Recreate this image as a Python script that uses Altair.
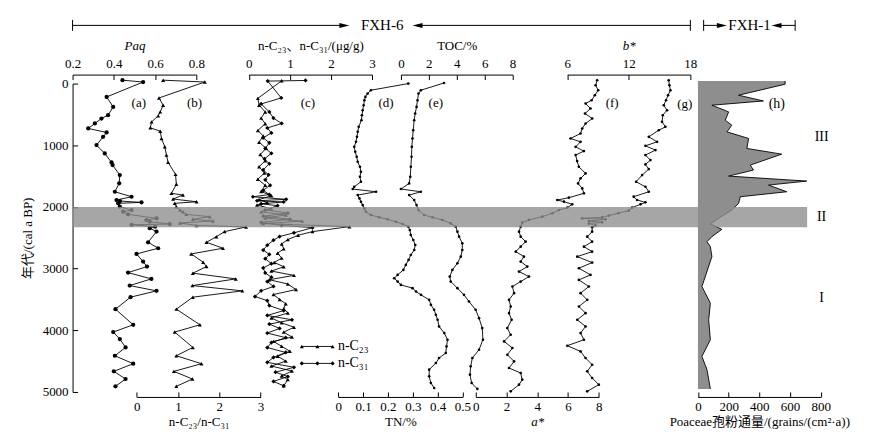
import altair as alt
import pandas as pd

# ---------------- data (age in cal a BP) ----------------
PAQ_AGE = [-55, -25, 217, 378, 513, 567, 647, 728, 793, 864, 998, 1133, 1278, 1322, 1484, 1618, 1754, 1835, 1888, 1905,
           1926, 1942, 1997, 2050, 2078, 2120, 2185, 2212, 2240, 2277, 2290, 2320, 2345, 2400, 2573, 2670, 2762, 2886, 2967, 3065,
           3167, 3275, 3361, 3463, 3657, 3911, 4029, 4142, 4278, 4413, 4542, 4666, 4790, 4909]
PAQ = [0.442, 0.542, 0.365, 0.397, 0.372, 0.340, 0.308, 0.276, 0.365, 0.348, 0.316, 0.356, 0.389, 0.394, 0.429, 0.426, 0.405, 0.486, 0.413, 0.430,
       0.534, 0.421, 0.429, 0.486, 0.445, 0.469, 0.607, 0.558, 0.574, 0.671, 0.486, 0.600, 0.574, 0.607, 0.566, 0.615, 0.510, 0.542, 0.561, 0.469,
       0.582, 0.477, 0.607, 0.481, 0.408, 0.494, 0.397, 0.429, 0.457, 0.405, 0.494, 0.400, 0.457, 0.408]

RAT_AGE = [-55, -25, 233, 351, 459, 524, 621, 718, 772, 890, 1026, 1160, 1278, 1472, 1634, 1780, 1807, 1872, 1916, 1942,
           1997, 2050, 2078, 2120, 2159, 2201, 2228, 2260, 2300, 2325, 2400, 2482, 2573, 2670, 2762, 2896, 2967, 3074, 3167, 3275,
           3361, 3463, 3657, 3911, 4029, 4278, 4413, 4542, 4666, 4790, 4909]
RAT = [0.64, 1.65, 0.54, 0.64, 0.57, 0.52, 0.36, 0.33, 0.57, 0.60, 0.68, 0.72, 0.76, 0.94, 0.96, 0.84, 1.12, 0.88, 1.45, 0.92,
       0.96, 1.05, 1.12, 1.20, 1.77, 1.36, 1.85, 1.05, 1.45, 2.65, 2.13, 1.93, 1.69, 2.09, 1.32, 1.61, 1.69, 1.36, 2.40, 1.35,
       2.56, 1.36, 0.96, 1.53, 0.92, 1.36, 0.96, 1.57, 0.90, 1.35, 0.96]

C23_AGE = [-45, 240, 350, 460, 560, 650, 760, 850, 950, 1050, 1150, 1250, 1350, 1450, 1550, 1650, 1750, 1820, 1880, 1930,
           1970, 2030, 2080, 2130, 2180, 2230, 2270, 2320, 2400, 2460, 2530, 2600, 2680, 2750, 2830, 2900, 2970, 3040, 3110, 3180,
           3250, 3340, 3420, 3500, 3570, 3650, 3720, 3800, 3880, 3950, 4030, 4110, 4180, 4260, 4340, 4420, 4500, 4580, 4660, 4740,
           4800, 4900]
C23 = [0.80, 0.22, 0.25, 0.40, 0.30, 0.40, 0.22, 0.35, 0.25, 0.42, 0.28, 0.40, 0.25, 0.38, 0.22, 0.40, 0.30, 0.55, 0.25, 0.45,
       0.20, 0.55, 0.30, 0.90, 0.40, 1.30, 0.35, 2.45, 1.55, 1.20, 0.95, 0.80, 0.85, 0.70, 0.80, 0.62, 0.85, 0.55, 1.10, 0.50,
       0.95, 1.15, 0.60, 0.75, 0.90, 0.85, 0.95, 0.55, 0.80, 1.10, 0.85, 1.05, 0.60, 0.80, 1.00, 0.70, 0.90, 0.55, 1.05, 0.80,
       0.95, 0.85]

C31_AGE = [-50, -40, 233, 330, 460, 560, 647, 720, 800, 880, 960, 1050, 1130, 1220, 1300, 1400, 1480, 1560, 1650, 1730,
           1800, 1835, 1877, 1900, 1920, 1950, 1980, 2050, 2100, 2150, 2200, 2250, 2300, 2336, 2420, 2480, 2540, 2620, 2700, 2770,
           2840, 2920, 2990, 3070, 3140, 3210, 3290, 3360, 3453, 3520, 3600, 3680, 3760, 3830, 3900, 3970, 4045, 4120, 4200, 4280,
           4360, 4440, 4520, 4600, 4680, 4750, 4830, 4900]
C31 = [1.38, 0.46, 0.79, 0.30, 0.50, 0.60, 0.80, 0.45, 0.55, 0.35, 0.50, 0.40, 0.55, 0.38, 0.50, 0.35, 0.48, 0.40, 0.52, 0.35,
       0.50, 0.10, 0.91, 0.20, 0.85, 0.30, 0.70, 0.40, 0.95, 0.35, 1.00, 0.30, 0.80, 1.55, 1.10, 0.75, 0.60, 0.45, 0.35, 0.50,
       0.40, 0.55, 0.35, 0.40, 0.55, 0.45, 0.60, 0.30, 0.15, 0.45, 0.50, 0.85, 0.45, 1.05, 0.50, 0.75, 0.45, 0.90, 0.55, 0.45,
       0.90, 0.60, 0.45, 1.10, 0.65, 0.95, 0.60, 0.85]

TN_AGE = [0, 108, 162, 216, 270, 351, 432, 513, 594, 702, 783, 864, 945, 1026, 1106, 1187, 1268, 1349, 1430, 1511,
          1592, 1673, 1710, 1754, 1808, 1862, 1916, 1970, 2024, 2078, 2131, 2169, 2201, 2240, 2277, 2320, 2374, 2455, 2536, 2617,
          2698, 2779, 2859, 2940, 3021, 3102, 3156, 3210, 3264, 3317, 3372, 3425, 3506, 3587, 3668, 3749, 3830, 3938, 4045, 4153,
          4262, 4369, 4450, 4531, 4639, 4747, 4855, 4935]
TN = [0.282, 0.131, 0.118, 0.109, 0.105, 0.102, 0.098, 0.095, 0.093, 0.082, 0.078, 0.075, 0.071, 0.064, 0.068, 0.074, 0.078, 0.087, 0.091, 0.087,
      0.091, 0.064, 0.058, 0.152, 0.078, 0.085, 0.091, 0.098, 0.105, 0.111, 0.131, 0.165, 0.198, 0.232, 0.259, 0.282, 0.288, 0.292, 0.302, 0.310,
      0.306, 0.292, 0.283, 0.272, 0.262, 0.239, 0.225, 0.239, 0.252, 0.299, 0.313, 0.333, 0.366, 0.373, 0.386, 0.393, 0.400, 0.406, 0.427, 0.440,
      0.436, 0.433, 0.406, 0.393, 0.366, 0.366, 0.373, 0.386]

TOC_AGE = [-10, 108, 162, 270, 378, 486, 594, 756, 891, 1026, 1187, 1349, 1511, 1619, 1710, 1754, 1808, 1889, 1970, 2051,
           2131, 2169, 2212, 2266, 2320, 2401, 2482, 2590, 2698, 2806, 2913, 3021, 3129, 3210, 3317, 3425, 3533, 3668, 3803, 3965,
           4153, 4315, 4450, 4585, 4720, 4855, 4951]
TOC = [3.09, 1.43, 1.26, 1.19, 1.12, 1.02, 0.95, 0.88, 0.83, 0.78, 0.76, 0.71, 0.67, 0.59, 0.0, 1.43, 0.59, 0.95, 1.12, 1.26,
       1.67, 2.26, 2.98, 3.57, 3.93, 4.05, 4.17, 4.40, 4.40, 4.29, 4.05, 3.69, 3.50, 3.57, 4.05, 4.52, 4.88, 5.36, 5.60, 5.83,
       5.88, 5.60, 5.12, 5.00, 4.95, 5.07, 5.48]

AST_AGE = [-53, 27, 108, 189, 270, 324, 405, 486, 567, 648, 729, 810, 890, 945, 1026, 1095, 1160, 1257, 1349, 1457,
           1538, 1619, 1700, 1780, 1850, 1888, 1915, 1958, 2012, 2050, 2104, 2158, 2212, 2255, 2320, 2401, 2482, 2563, 2644, 2725,
           2806, 2886, 2967, 3048, 3129, 3210, 3291, 3398, 3506, 3614, 3722, 3830, 3965, 4072, 4180, 4288, 4396, 4504, 4612, 4693,
           4801, 4882, 4990]
AST = [7.89, 7.79, 7.96, 7.74, 7.53, 7.14, 7.46, 7.10, 7.57, 7.14, 6.92, 6.81, 6.16, 6.81, 6.49, 7.03, 6.49, 6.59, 6.70, 7.14,
       6.81, 6.65, 6.92, 7.03, 6.05, 5.30, 5.73, 6.27, 5.95, 5.41, 4.97, 4.32, 3.46, 3.02, 2.92, 2.81, 2.92, 3.24, 2.92, 2.60,
       3.13, 2.92, 3.35, 2.81, 3.46, 2.92, 2.38, 2.49, 2.16, 2.27, 2.16, 2.33, 2.05, 2.27, 1.84, 2.38, 2.05, 2.49, 2.16, 2.92,
       3.02, 2.81, 2.27]

BST_AGE = [-53, 27, 108, 189, 270, 351, 432, 513, 621, 702, 756, 864, 945, 1009, 1079, 1160, 1241, 1311, 1387, 1484,
           1592, 1673, 1754, 1834, 1888, 1926, 1958, 2012, 2060, 2100, 2140, 2170, 2185, 2200, 2230, 2250, 2270, 2300, 2330, 2401,
           2482, 2563, 2644, 2725, 2806, 2902, 2994, 3102, 3183, 3291, 3398, 3506, 3614, 3722, 3830, 3938, 4045, 4153, 4250, 4342,
           4450, 4558, 4666, 4774, 4882, 4990]
BST = [15.89, 15.96, 16.06, 15.83, 15.63, 15.41, 15.73, 15.31, 15.24, 15.57, 14.92, 13.95, 14.76, 13.62, 14.60, 13.62, 14.11, 13.62, 13.95, 13.30,
       12.71, 13.62, 13.95, 12.48, 12.81, 13.62, 13.14, 12.32, 12.0, 11.0, 10.06, 9.40, 7.46, 9.74, 8.11, 9.40, 8.11, 8.76, 8.43, 8.43,
       7.95, 8.43, 7.63, 8.43, 6.98, 8.43, 7.14, 8.27, 7.14, 8.11, 7.30, 7.95, 7.14, 7.79, 6.98, 7.79, 7.30, 7.63, 6.01, 7.30,
       7.79, 8.43, 7.95, 8.43, 9.08, 7.95]

POA_AGE = [-42, 10, 189, 282, 351, 459, 594, 675, 783, 890, 1052, 1144, 1322, 1403, 1500, 1581, 1646, 1754, 1835, 1942,
           2050, 2185, 2277, 2363, 2482, 2563, 2644, 2806, 3291, 3560, 3830, 4153, 4423, 4639, 4950]
POA = [568, 568, 265, 427, 91, 200, 178, 221, 189, 330, 319, 546, 341, 362, 200, 709, 460, 579, 276, 265,
       221, 135, 81, 156, 91, 59, 81, 91, 26, 81, 70, 81, 26, 59, 81]

BAND = [2000, 2330]          # zone II (grey band)
LEGEND_X = [1.29, 1.67, 2.04]  # legend swatch positions on the n-C axis
LEGEND_AGE = [4262, 4537]

# ---------------- styling / layout ----------------
SERIF = "Liberation Serif"
MIXED = "Liberation Serif, Noto Sans CJK SC"
W, H = 750, 309
NEG = {"expr": "-5"}   # inward ticks
FMT = "~r"

S_PAQ = ([0.2, 0.8], [0, 124])
S_RAT = ([0, 3], [64.3, 188.3])
S_C = ([0, 3], [176.6, 300])
S_TN = ([0, 0.5], [266.3, 390.6])
S_TOC = ([0, 8], [329, 440.8])
S_AST = ([0, 8], [404, 527.3])
S_BST = ([6, 18], [495.6, 619])
S_POA = ([0, 800], [626.6, 749.6])


def sc(dom, rng):
    return alt.Scale(domain=dom, range=rng, nice=False, zero=False)


def top_axis(title, values, italic=False):
    return alt.Axis(orient="top", title=title, values=values, format=FMT, offset=9,
                    tickSize=NEG, labelPadding=9, titlePadding=5,
                    titleFontStyle="italic" if italic else "normal")


def bottom_axis(title, values, italic=False):
    return alt.Axis(orient="bottom", title=title, values=values, format=FMT, offset=5,
                    tickSize=NEG, labelPadding=8.5, titlePadding=2,
                    titleFontStyle="italic" if italic else "normal")


yaxis = alt.Axis(orient="left", title="年代/(cal a BP)", values=[0, 1000, 2000, 3000, 4000, 5000],
                 format=FMT, tickSize=NEG, labelPadding=9.5, titlePadding=8)
Y = alt.Y("age:Q", scale=alt.Scale(domain=[0, 5000], reverse=True, nice=False, zero=False), axis=yaxis)


def series(age, val, s, axis, shape="circle", size=16, order="age"):
    df = pd.DataFrame({"age": age, "v": val})
    return alt.Chart(df).mark_line(
        color="black", strokeWidth=0.9,
        point=alt.OverlayMarkDef(shape=shape, size=size, filled=True, color="black", opacity=1)
    ).encode(x=alt.X("v:Q", scale=sc(*s), axis=axis), y=Y, order=alt.Order(f"{order}:Q"))


def labels(texts, vals, ages, s, size=13, align="center"):
    df = pd.DataFrame({"t": texts, "v": vals, "age": ages})
    return alt.Chart(df).mark_text(font=SERIF, fontSize=size, color="black", align=align).encode(
        x=alt.X("v:Q", scale=sc(*s), axis=None), y=Y, text="t:N")


layers = []
layers.append(series(PAQ_AGE, PAQ, S_PAQ, top_axis("Paq", [0.2, 0.4, 0.6, 0.8], italic=True), "circle", 18))
layers.append(series(RAT_AGE, RAT, S_RAT, bottom_axis("n-C₂₃/n-C₃₁", [0, 1, 2, 3]), "triangle-up", 16))
layers.append(series(C23_AGE, C23, S_C, top_axis("n-C₂₃、n-C₃₁/(μg/g)", [0, 1, 2, 3]), "triangle-up", 16))
layers.append(series(C31_AGE, C31, S_C, None, "diamond", 18))
layers.append(series(TN_AGE, TN, S_TN, bottom_axis("TN/%", [0, 0.1, 0.2, 0.3, 0.4, 0.5]), "circle", 7))
layers.append(series(TOC_AGE, TOC, S_TOC, top_axis("TOC/%", [0, 2, 4, 6, 8]), "circle", 7))
layers.append(series(AST_AGE, AST, S_AST, bottom_axis("a*", [0, 2, 4, 6, 8], italic=True), "circle", 7))
layers.append(series(BST_AGE, BST, S_BST, top_axis("b*", [6, 12, 18], italic=True), "circle", 7))

poa_df = pd.DataFrame({"age": POA_AGE, "v": POA})
layers.append(alt.Chart(poa_df).mark_area(orient="horizontal", color="#8e8e8e", opacity=1).encode(
    x=alt.X("v:Q", scale=sc(*S_POA),
            axis=bottom_axis("Poaceae孢粉通量/(grains/(cm²·a))", [0, 200, 400, 600, 800])),
    x2=alt.datum(0), y=Y))
layers.append(alt.Chart(poa_df).mark_line(color="black", strokeWidth=0.9).encode(
    x=alt.X("v:Q", scale=sc(*S_POA), axis=None), y=Y, order=alt.Order("age:Q")))

# legend for panel (c)
layers.append(series([LEGEND_AGE[0]] * 3, LEGEND_X, S_C, None, "triangle-up", 16, order="v"))
layers.append(series([LEGEND_AGE[1]] * 3, LEGEND_X, S_C, None, "diamond", 18, order="v"))
layers.append(labels(["n-C₂₃", "n-C₃₁"], [2.17, 2.17], LEGEND_AGE, S_C, size=14, align="left"))

# grey band (zone II) drawn over the curves
band_df = pd.DataFrame({"age": [BAND[0]], "age2": [BAND[1]]})
layers.append(alt.Chart(band_df).mark_rect(color="#8e8e8e", opacity=0.79).encode(
    x=alt.value(0), x2=alt.value(736), y=Y, y2="age2:Q"))

# panel letters and zone numerals
layers.append(labels(["(a)"], [0.521], [319], S_PAQ))
layers.append(labels(["(b)"], [1.40], [319], S_RAT))
layers.append(labels(["(c)"], [1.44], [319], S_C))
layers.append(labels(["(d)"], [0.192], [313], S_TN))
layers.append(labels(["(e)"], [2.5], [313], S_TOC))
layers.append(labels(["(f)", "(g)"], [10.38, 17.45], [313, 325], S_BST))
layers.append(labels(["(h)", "III", "II", "I"], [514, 806, 806, 806], [325, 864, 2159, 3480], S_POA, size=14))

# header: core names with arrows
ONE = pd.DataFrame({"k": [0]})
HY = -58.3
RIGHT = "M1,0L-1,-0.5L-1,0.5Z"
LEFT = "M-1,0L1,-0.5L1,0.5Z"


def hline(x1, x2):
    return alt.Chart(ONE).mark_rule(color="black", strokeWidth=1).encode(
        x=alt.value(x1), x2=alt.value(x2), y=alt.value(HY))


def vbar(x):
    return alt.Chart(ONE).mark_rule(color="black", strokeWidth=1).encode(
        x=alt.value(x), y=alt.value(HY - 5.5), y2=alt.value(HY + 5.5))


def arrow(x, shape):
    return alt.Chart(ONE).mark_point(shape=shape, size=100, filled=True, color="black", opacity=1).encode(
        x=alt.value(x), y=alt.value(HY))


def htext(t, x):
    return alt.Chart(ONE).mark_text(font=SERIF, fontSize=15, color="black", baseline="middle").encode(
        x=alt.value(x), y=alt.value(HY), text=alt.value(t))


layers += [vbar(0), hline(0, 272.3), arrow(272.3, RIGHT), htext("FXH-6", 310.2),
           arrow(345.6, LEFT), hline(345.6, 619), vbar(619),
           vbar(632.3), hline(632.3, 650.6), arrow(650.6, RIGHT), htext("FXH-1", 678.3),
           arrow(705.3, LEFT), hline(705.3, 724), vbar(724)]

chart = alt.layer(*layers).resolve_scale(x="independent").properties(
    width=W, height=H,
    padding={"left": 64.7, "top": 75.3, "right": 50, "bottom": 40},
    autosize=alt.AutoSizeParams(type="none"),
).configure_view(stroke=None).configure_axis(
    grid=False, domainColor="black", tickColor="black", labelColor="black", titleColor="black",
    labelFont=SERIF, titleFont=MIXED, labelFontSize=13, titleFontSize=13, titleFontWeight="normal",
    domainWidth=1, tickWidth=1, labelFlush=False, labelOverlap=False,
)

chart.save("out.html", embed_options={"renderer": "svg", "actions": False})
